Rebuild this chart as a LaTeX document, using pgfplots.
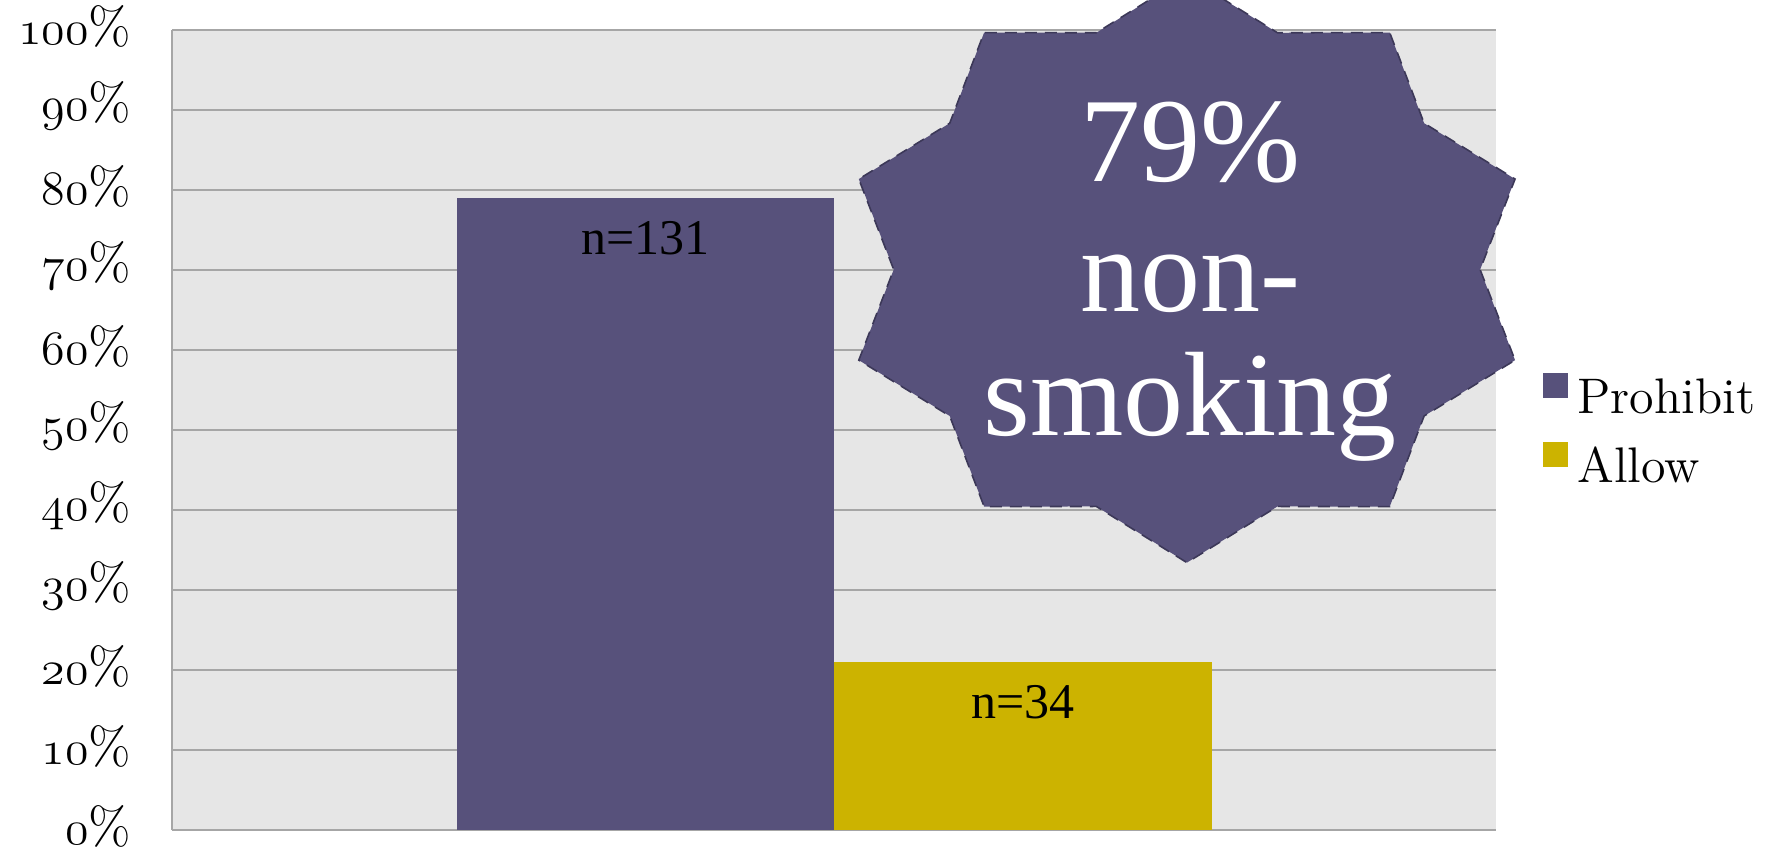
\documentclass[border=0pt]{standalone}
\usepackage{pgfplots}
\pgfplotsset{compat=1.18}
\usepackage{fontspec}
\newfontfamily\timesfont{Liberation Serif}
\newcommand\osf[1]{{\usefont{OML}{cmm}{m}{it}#1}}
\definecolor{plotbg}{HTML}{E6E6E6}
\definecolor{gridgray}{HTML}{A6A6A6}
\definecolor{purp}{HTML}{57517B}
\definecolor{gold}{HTML}{CCB300}
\definecolor{stardraw}{HTML}{3C3858}
\begin{document}
\begin{tikzpicture}
\begin{axis}[
  scale only axis, width=330.875pt, height=200pt,
  xmin=0, xmax=1, ymin=0, ymax=100,
  axis background/.style={fill=plotbg},
  axis x line*=bottom, axis y line*=left,
  axis line style={-, draw=gridgray, line width=0.5pt},
  xtick=\empty,
  ytick={0,10,20,30,40,50,60,70,80,90,100},
  yticklabels={\osf{0}\%,\osf{10}\%,\osf{20}\%,\osf{30}\%,\osf{40}\%,\osf{50}\%,\osf{60}\%,\osf{70}\%,\osf{80}\%,\osf{90}\%,\osf{100}\%},
  ymajorgrids, major grid style={draw=gridgray, line width=0.4pt},
  major tick length=0pt,
  yticklabel style={font=\fontsize{13}{15.5}\selectfont, xshift=-6.8pt, yshift=1pt},
  ybar, bar width=0.2851, bar shift=0pt,
  point meta=explicit symbolic,
  nodes near coords,
  every node near coord/.style={anchor=center, yshift=-10pt, font=\timesfont\fontsize{12.5}{15}\selectfont, text=black},
  legend image code/.code={\fill[#1] (0pt,0.6pt) rectangle (6.25pt,6.85pt);},
  legend style={at={(1.0355,0.571)}, anchor=north west, draw=none, fill=none,
    inner sep=0pt, outer sep=0pt, row sep=4.6pt,
    nodes={inner xsep=2.4pt, inner ysep=0pt, text height=9pt, text depth=2.5pt, font=\fontsize{12.5}{15}\selectfont}},
  legend cell align=left,
]
\addplot[fill=purp, draw=none] coordinates {(0.35745,79) [n=131]};
\addlegendentry{Prohibit}
\addplot[fill=gold, draw=none] coordinates {(0.64255,21) [n=34]};
\addlegendentry{Allow}
\end{axis}
\begin{scope}
\clip (-43.125pt,-4.75pt) rectangle (400.125pt,207.5pt);
\begin{scope}[shift={(253.6pt,140.1pt)}, yscale=0.8493]
\draw[fill=purp, draw=stardraw, densely dashed, line width=0.4pt]
 (90:86.25pt) -- (72:73.3pt) -- (54:86.25pt) -- (36:73.3pt) -- (18:86.25pt) -- (0:73.3pt) --
 (-18:86.25pt) -- (-36:73.3pt) -- (-54:86.25pt) -- (-72:73.3pt) -- (-90:86.25pt) -- (-108:73.3pt) --
 (-126:86.25pt) -- (-144:73.3pt) -- (-162:86.25pt) -- (180:73.3pt) -- (162:86.25pt) -- (144:73.3pt) --
 (126:86.25pt) -- (108:73.3pt) -- cycle;
\end{scope}
\end{scope}
\node[anchor=base, text=white, font=\timesfont\fontsize{30}{36}\selectfont, inner sep=0pt] at (254.4pt,162.25pt) {79\%};
\node[anchor=base, text=white, font=\timesfont\fontsize{30}{36}\selectfont, inner sep=0pt] at (254.4pt,129.75pt) {non-};
\node[anchor=base, text=white, font=\timesfont\fontsize{30}{36}\selectfont, inner sep=0pt] at (254.4pt,98.7pt) {smoking};
\pgfresetboundingbox
\useasboundingbox (-43.125pt,-4.75pt) rectangle (400.125pt,207.5pt);
\end{tikzpicture}
\end{document}
